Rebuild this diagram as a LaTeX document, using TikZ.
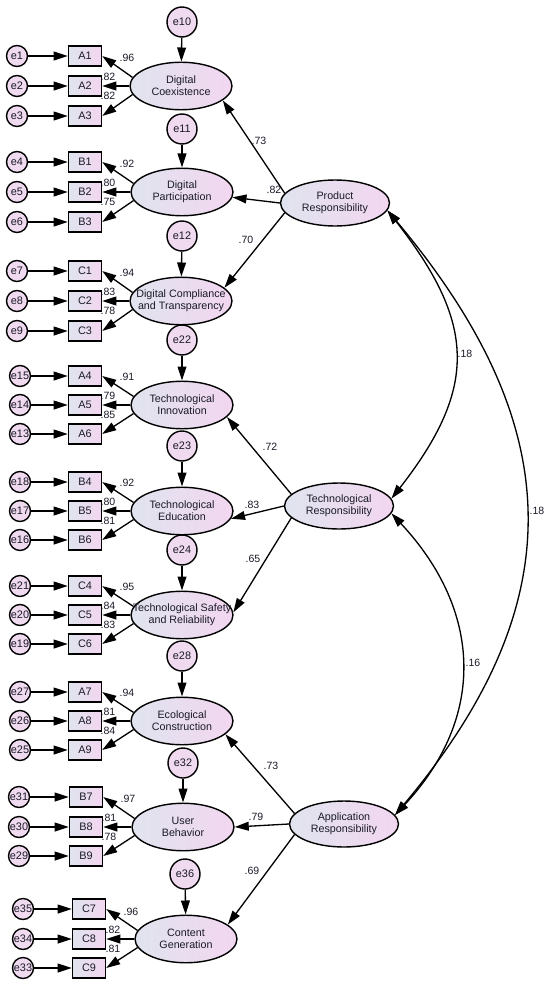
\documentclass[tikz,border=0pt]{standalone}
\usepackage{fontspec}
\setmainfont{Liberation Sans}
\usetikzlibrary{arrows.meta,shapes.geometric}
\definecolor{shadeL}{HTML}{E0E4EE}
\definecolor{shadeR}{HTML}{F2D6F0}
\definecolor{errfill}{HTML}{F0DAF0}
\definecolor{ink}{HTML}{1A1A28}
\begin{document}
\begin{tikzpicture}[x=0.02cm, y=-0.02cm,
        every node/.style={text=ink},
        latent/.style={draw, ellipse, line width=0.8pt, left color=shadeL, right color=shadeR, minimum width=2.04cm, minimum height=0.95cm, inner xsep=-8pt, inner ysep=0pt, align=center, font=\fontsize{6.1}{6.7}\selectfont},
        factor/.style={latent, minimum width=2.18cm, minimum height=0.92cm},
        item/.style={draw, rectangle, line width=0.8pt, left color=shadeL, right color=shadeR, minimum width=0.66cm, minimum height=0.4cm, inner sep=0pt, font=\fontsize{6.2}{7}\selectfont},
        err/.style={draw, circle, line width=0.8pt, fill=errfill, minimum size=0.42cm, inner sep=0pt, font=\fontsize{6.2}{7}\selectfont},
        errbig/.style={err, minimum size=0.6cm},
        coef/.style={inner sep=0pt, font=\fontsize{6}{7}\selectfont},
        arr/.style={line width=0.75pt, ->, >={Triangle[length=8pt,width=5pt]}},
        cov/.style={arr, <->}]
        \useasboundingbox (0,0) rectangle (550,987);

        \node[latent] (dc) at (181,86) {Digital\\Coexistence};
        \node[errbig] (e10) at (182,22) {e10};
        \node[item] (a1) at (85,56) {A1};
        \node[item] (a2) at (85,86) {A2};
        \node[item] (a3) at (85,116) {A3};
        \node[err] (e1) at (17,56) {e1};
        \node[err] (e2) at (17,86) {e2};
        \node[err] (e3) at (17,116) {e3};

        \node[latent] (dp) at (182,192) {Digital\\Participation};
        \node[errbig] (e11) at (182,129) {e11};
        \node[item] (b1) at (85,162) {B1};
        \node[item] (b2) at (85,192) {B2};
        \node[item] (b3) at (85,222) {B3};
        \node[err] (e4) at (17,162) {e4};
        \node[err] (e5) at (17,192) {e5};
        \node[err] (e6) at (17,222) {e6};

        \node[latent] (dct) at (181,301) {Digital Compliance\\and Transparency};
        \node[errbig] (e12) at (182,236) {e12};
        \node[item] (c1) at (85,271) {C1};
        \node[item] (c2) at (85,301) {C2};
        \node[item] (c3) at (85,331) {C3};
        \node[err] (e7) at (17,271) {e7};
        \node[err] (e8) at (17,301) {e8};
        \node[err] (e9) at (17,331) {e9};

        \node[latent] (ti) at (182,405) {Technological\\Innovation};
        \node[errbig] (e22) at (182,340) {e22};
        \node[item] (a4) at (85,376) {A4};
        \node[item] (a5) at (85,405) {A5};
        \node[item] (a6) at (85,434) {A6};
        \node[err] (e15) at (20,376) {e15};
        \node[err] (e14) at (20,405) {e14};
        \node[err] (e13) at (20,434) {e13};

        \node[latent] (te) at (182,511) {Technological\\Education};
        \node[errbig] (e23) at (182,446) {e23};
        \node[item] (b4) at (85,482) {B4};
        \node[item] (b5) at (85,511) {B5};
        \node[item] (b6) at (85,540) {B6};
        \node[err] (e18) at (20,482) {e18};
        \node[err] (e17) at (20,511) {e17};
        \node[err] (e16) at (20,540) {e16};

        \node[latent] (tsr) at (182,615) {Technological Safety\\and Reliability};
        \node[errbig] (e24) at (182,550) {e24};
        \node[item] (c4) at (85,586) {C4};
        \node[item] (c5) at (85,615) {C5};
        \node[item] (c6) at (85,644) {C6};
        \node[err] (e21) at (20,586) {e21};
        \node[err] (e20) at (20,615) {e20};
        \node[err] (e19) at (20,644) {e19};

        \node[latent] (ec) at (182,721) {Ecological\\Construction};
        \node[errbig] (e28) at (182,656) {e28};
        \node[item] (a7) at (85,692) {A7};
        \node[item] (a8) at (85,721) {A8};
        \node[item] (a9) at (85,750) {A9};
        \node[err] (e27) at (20,692) {e27};
        \node[err] (e26) at (20,721) {e26};
        \node[err] (e25) at (20,750) {e25};

        \node[latent] (ub) at (183,827) {User\\Behavior};
        \node[errbig] (e32) at (183,763) {e32};
        \node[item] (b7) at (86,797) {B7};
        \node[item] (b8) at (86,827) {B8};
        \node[item] (b9) at (86,856) {B9};
        \node[err] (e31) at (19,797) {e31};
        \node[err] (e30) at (19,827) {e30};
        \node[err] (e29) at (19,856) {e29};

        \node[latent] (cg) at (186,939) {Content\\Generation};
        \node[errbig] (e36) at (185,874) {e36};
        \node[item] (c7) at (89,909) {C7};
        \node[item] (c8) at (89,939) {C8};
        \node[item] (c9) at (89,968) {C9};
        \node[err] (e35) at (23,909) {e35};
        \node[err] (e34) at (23,939) {e34};
        \node[err] (e33) at (23,968) {e33};

        \node[factor] (pr) at (335,203) {Product\\Responsibility};
        \node[factor] (tr) at (339,506) {Technological\\Responsibility};
        \node[factor] (ar) at (344,824) {Application\\Responsibility};

        \path[draw,arr] (e1) -- (a1);
        \path[draw,arr] (e2) -- (a2);
        \path[draw,arr] (e3) -- (a3);
        \path[draw,arr] (e4) -- (b1);
        \path[draw,arr] (e5) -- (b2);
        \path[draw,arr] (e6) -- (b3);
        \path[draw,arr] (e7) -- (c1);
        \path[draw,arr] (e8) -- (c2);
        \path[draw,arr] (e9) -- (c3);
        \path[draw,arr] (e15) -- (a4);
        \path[draw,arr] (e14) -- (a5);
        \path[draw,arr] (e13) -- (a6);
        \path[draw,arr] (e18) -- (b4);
        \path[draw,arr] (e17) -- (b5);
        \path[draw,arr] (e16) -- (b6);
        \path[draw,arr] (e21) -- (c4);
        \path[draw,arr] (e20) -- (c5);
        \path[draw,arr] (e19) -- (c6);
        \path[draw,arr] (e27) -- (a7);
        \path[draw,arr] (e26) -- (a8);
        \path[draw,arr] (e25) -- (a9);
        \path[draw,arr] (e31) -- (b7);
        \path[draw,arr] (e30) -- (b8);
        \path[draw,arr] (e29) -- (b9);
        \path[draw,arr] (e35) -- (c7);
        \path[draw,arr] (e34) -- (c8);
        \path[draw,arr] (e33) -- (c9);

        \path[draw,arr] (e10) -- (dc);
        \path[draw,arr] (e11) -- (dp);
        \path[draw,arr] (e12) -- (dct);
        \path[draw,arr] (e22) -- (ti);
        \path[draw,arr] (e23) -- (te);
        \path[draw,arr] (e24) -- (tsr);
        \path[draw,arr] (e28) -- (ec);
        \path[draw,arr] (e32) -- (ub);
        \path[draw,arr] (e36) -- (cg);

        \path[draw,arr] (dc.170) -- (a1.east);
        \path[draw,arr] (dc.west) -- (a2.east);
        \path[draw,arr] (dc.190) -- (a3.east);
        \path[draw,arr] (dp.170) -- (b1.east);
        \path[draw,arr] (dp.west) -- (b2.east);
        \path[draw,arr] (dp.190) -- (b3.east);
        \path[draw,arr] (dct.170) -- (c1.east);
        \path[draw,arr] (dct.west) -- (c2.east);
        \path[draw,arr] (dct.190) -- (c3.east);
        \path[draw,arr] (ti.170) -- (a4.east);
        \path[draw,arr] (ti.west) -- (a5.east);
        \path[draw,arr] (ti.190) -- (a6.east);
        \path[draw,arr] (te.170) -- (b4.east);
        \path[draw,arr] (te.west) -- (b5.east);
        \path[draw,arr] (te.190) -- (b6.east);
        \path[draw,arr] (tsr.170) -- (c4.east);
        \path[draw,arr] (tsr.west) -- (c5.east);
        \path[draw,arr] (tsr.190) -- (c6.east);
        \path[draw,arr] (ec.170) -- (a7.east);
        \path[draw,arr] (ec.west) -- (a8.east);
        \path[draw,arr] (ec.190) -- (a9.east);
        \path[draw,arr] (ub.170) -- (b7.east);
        \path[draw,arr] (ub.west) -- (b8.east);
        \path[draw,arr] (ub.190) -- (b9.east);
        \path[draw,arr] (cg.170) -- (c7.east);
        \path[draw,arr] (cg.west) -- (c8.east);
        \path[draw,arr] (cg.190) -- (c9.east);

        \path[draw,arr] (pr.169) -- (dc.-19);
        \path[draw,arr] (pr.west) -- (dp.-6);
        \path[draw,arr] (pr.191) -- (dct.17);
        \path[draw,arr] (tr.166) -- (ti.-15);
        \path[draw,arr] (tr.west) -- (te.-9);
        \path[draw,arr] (tr.194) -- (tsr.3);
        \path[draw,arr] (ar.168) -- (ec.-17);
        \path[draw,arr] (ar.west) -- (ub.east);
        \path[draw,arr] (ar.192) -- (cg.19);

        \path[draw,cov] (pr.-8) to[out=-52, in=52, looseness=1.26] (tr.8);
        \path[draw,cov] (tr.-8) to[out=-47, in=47, looseness=1.13] (ar.10);
        \path[draw,cov] (pr.-8) to[out=-50, in=50, looseness=1.18] (ar.10);

        \node[coef] at (127,58) {.96};
        \node[coef] at (108,77) {.82};
        \node[coef] at (108,96) {.82};
        \node[coef] at (127,164) {.92};
        \node[coef] at (108,183) {.80};
        \node[coef] at (108,202) {.75};
        \node[coef] at (127,273) {.94};
        \node[coef] at (108,292) {.83};
        \node[coef] at (108,311) {.78};
        \node[coef] at (127,377) {.91};
        \node[coef] at (108,396) {.79};
        \node[coef] at (108,415) {.85};
        \node[coef] at (127,483) {.92};
        \node[coef] at (108,502) {.80};
        \node[coef] at (108,521) {.81};
        \node[coef] at (127,587) {.95};
        \node[coef] at (108,606) {.84};
        \node[coef] at (108,625) {.83};
        \node[coef] at (127,693) {.94};
        \node[coef] at (108,712) {.81};
        \node[coef] at (108,731) {.84};
        \node[coef] at (128,799) {.97};
        \node[coef] at (109,818) {.81};
        \node[coef] at (109,837) {.78};
        \node[coef] at (131,912) {.96};
        \node[coef] at (113,930) {.82};
        \node[coef] at (113,949) {.81};

        \node[coef] at (259,141) {.73};
        \node[coef] at (274,190) {.82};
        \node[coef] at (246,240) {.70};
        \node[coef] at (270,447) {.72};
        \node[coef] at (252,505) {.83};
        \node[coef] at (253,559) {.65};
        \node[coef] at (271,766) {.73};
        \node[coef] at (256,817) {.79};
        \node[coef] at (252,871) {.69};
        \node[coef] at (465,354) {.18};
        \node[coef] at (473,663) {.16};
        \node[coef] at (537,511) {.18};
    \end{tikzpicture}
\end{document}
